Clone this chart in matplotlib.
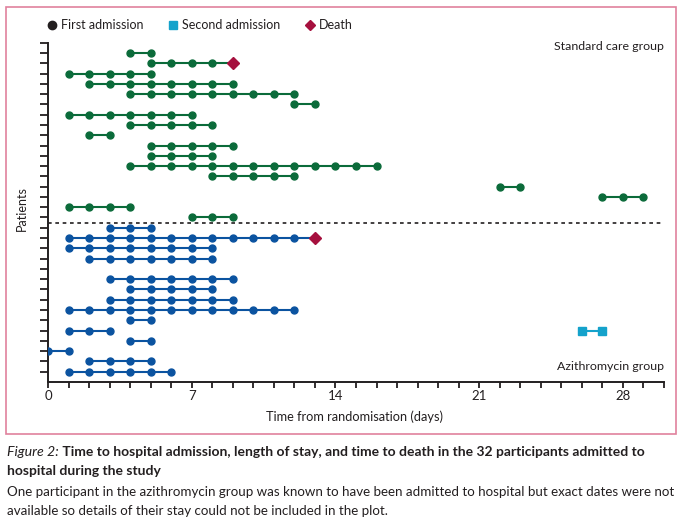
import matplotlib.pyplot as plt
from matplotlib.lines import Line2D
from matplotlib.patches import Rectangle

# days with a dot on the first admission line, one list per patient, top to bottom
standard_first = [
    [4, 5],
    [5, 6, 7, 8],
    [1, 2, 3, 4, 5],
    [2, 3, 4, 5, 6, 7, 8, 9],
    [4, 5, 6, 7, 8, 9, 10, 11, 12],
    [12, 13],
    [1, 2, 3, 4, 5, 6, 7],
    [4, 5, 6, 7, 8],
    [2, 3],
    [5, 6, 7, 8, 9],
    [5, 6, 7, 8],
    [4, 5, 6, 7, 8, 9, 10, 11, 12, 13, 14, 15, 16],
    [8, 9, 10, 11, 12],
    [22, 23],
    [27, 28, 29],
    [1, 2, 3, 4],
    [7, 8, 9],
]
standard_death = [None, 9, None, None, None, None, None, None, None,
                  None, None, None, None, None, None, None, None]

azithro_first = [
    [3, 4, 5],
    [1, 2, 3, 4, 5, 6, 7, 8, 9, 10, 11, 12],
    [1, 2, 3, 4, 5, 6, 7, 8],
    [2, 3, 4, 5, 6, 7, 8],
    [],
    [3, 4, 5, 6, 7, 8, 9],
    [4, 5, 6, 7, 8],
    [3, 4, 5, 6, 7, 8, 9],
    [1, 2, 3, 4, 5, 6, 7, 8, 9, 10, 11, 12],
    [4, 5],
    [1, 2, 3],
    [4, 5],
    [0, 1],
    [2, 3, 4, 5],
    [1, 2, 3, 4, 5, 6],
]
azithro_death = [None, 13, None, None, None, None, None, None,
                 None, None, None, None, None, None, None]
azithro_second = [[], [], [], [], [], [], [], [], [], [], [26, 27], [], [], [], []]

x_labels = [0, 7, 14, 21, 28]

GREEN = "#0b6b3a"
BLUE = "#0b53a0"
CRIMSON = "#a6103e"
CYAN = "#14a2cb"
INK = "#231f20"

plt.rcParams["font.family"] = ["Lato", "DejaVu Sans"]
plt.rcParams["text.color"] = INK

W, H = 680, 523
fig = plt.figure(figsize=(W / 100, H / 100), dpi=100)
ax = fig.add_axes([48 / W, 1 - 382 / H, 616 / W, (382 - 42.7) / H])


def draw_patient(row, days, color, death=None, second=()):
    xs = list(days) + ([death] if death is not None else [])
    if xs:
        ax.plot(xs, [row] * len(xs), color=color, lw=1.5, zorder=2)
        ax.plot(days, [row] * len(days), "o", color=color, ms=5, zorder=3)
    if death is not None:
        ax.plot([death], [row], "D", color=CRIMSON, ms=6.5, zorder=4)
    if len(second):
        ax.plot(second, [row] * len(second), color=CYAN, lw=1.5, zorder=2)
        ax.plot(second, [row] * len(second), "s", color=CYAN, ms=6, zorder=3)


n_az = len(azithro_first)
n_sc = len(standard_first)
for i, days in enumerate(standard_first):
    draw_patient(n_az + n_sc - i, days, GREEN, standard_death[i])
for i, days in enumerate(azithro_first):
    draw_patient(n_az - i, days, BLUE, azithro_death[i], azithro_second[i])

ax.axhline(n_az + 0.5, color=INK, lw=1.2, ls=(0, (2.2, 2.2)), zorder=1)

ax.set_xlim(0, 30)
ax.set_ylim(0, n_az + n_sc + 1)
ax.set_xticks(x_labels)
ax.set_xticks(range(0, 31), minor=True)
ax.set_yticks(range(1, n_az + n_sc + 2))
ax.set_yticklabels([])
ax.tick_params(axis="x", which="both", length=4, width=1.3, color=INK,
               labelsize=9.5, labelcolor=INK, pad=2)
ax.tick_params(axis="y", length=5.5, width=1.3, color=INK)
for side in ["top", "right"]:
    ax.spines[side].set_visible(False)
for side in ["left", "bottom"]:
    ax.spines[side].set_linewidth(1.4)
    ax.spines[side].set_color(INK)
ax.patch.set_visible(False)

fig.text(664 / W, 1 - 47 / H, "Standard care group", fontsize=8.9,
         ha="right", va="center")
fig.text(664 / W, 1 - 367 / H, "Azithromycin group", fontsize=8.9,
         ha="right", va="center")
fig.text(22 / W, 1 - 209 / H, "Patients", fontsize=9, rotation=90,
         ha="center", va="center")
fig.text(355 / W, 1 - 417 / H, "Time from randomisation (days)", fontsize=9.2,
         ha="center", va="center")

# legend row
legend_items = [
    (52, "o", INK, 6, "First admission"),
    (173, "s", CYAN, 5.8, "Second admission"),
    (310, "D", CRIMSON, 5.4, "Death"),
]
for x, marker, color, size, label in legend_items:
    fig.add_artist(Line2D([x / W], [1 - 25 / H], transform=fig.transFigure,
                          marker=marker, color=color, ms=size, ls="none"))
    fig.text((x + 9) / W, 1 - 25 / H, label, fontsize=9, ha="left", va="center")

fig.patches.append(Rectangle((6 / W, 1 - 434 / H), 670 / W, 427 / H,
                             transform=fig.transFigure, fill=False,
                             edgecolor="#e0819d", lw=1.2))

# caption
t1 = fig.text(7 / W, 1 - 452 / H, "Figure 2:", fontsize=10.2, style="italic",
              ha="left", va="center")
plt.annotate(" Time to hospital admission, length of stay, and time to death "
             "in the 32 participants admitted to", xy=(1, 0), xycoords=t1,
             fontsize=10, weight="bold", ha="left", va="bottom",
             annotation_clip=False)
fig.text(7 / W, 1 - 471 / H, "hospital during the study", fontsize=10,
         weight="bold", ha="left", va="center")
fig.text(7 / W, 1 - 492 / H, "One participant in the azithromycin group was "
         "known to have been admitted to hospital but exact dates were not",
         fontsize=9.6, ha="left", va="center")
fig.text(7 / W, 1 - 511 / H, "available so details of their stay could not "
         "be included in the plot.", fontsize=9.6, ha="left", va="center")

fig.savefig("out.png", dpi=100)
